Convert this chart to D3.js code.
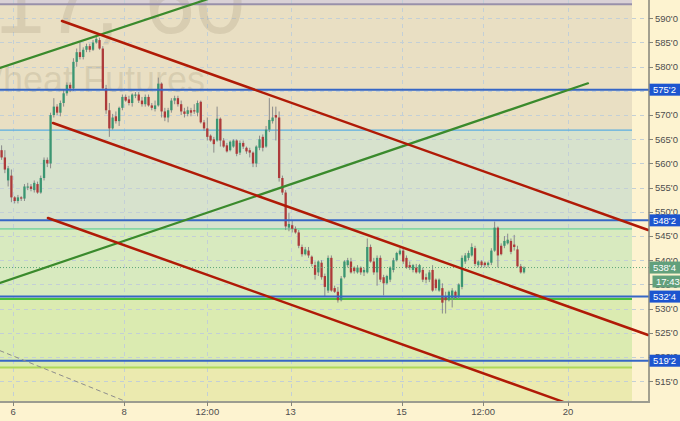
<!DOCTYPE html>
<html><head><meta charset="utf-8">
<script src="https://cdn.jsdelivr.net/npm/d3@7"></script>
<style>html,body{margin:0;padding:0;background:#fdf3d0;}svg{display:block}</style>
</head><body><svg id="c" width="680" height="421"></svg>
<script>
// [open, high, low, close] hourly bars
const ohlc = [
[562.75,563.75,560.75,561.25],[561.25,562.75,558,558.75],[556.5,559.5,555.25,559],[557.5,558.75,552,553],
[553,553.25,551.75,552.25],[552.25,553.5,551.75,553],[553,553.25,552.25,552.75],[552.75,555.75,552.25,555.25],
[555,556,554.5,555.25],[555.25,555.75,554.25,554.75],[554.5,556.5,554,556],[555.75,556.25,553.75,554],
[554,557.5,553.75,557],[557,561.25,556.5,560.75],[560.75,561.25,559.25,560],[560,570.5,559,570],
[570,573.5,569.5,571.75],[571.75,572.25,570,570.5],[570.5,573,569.75,572.5],[572.5,575.25,571.75,574.5],
[574.5,576.75,574,576.25],[576.25,576.75,574.75,575.5],[575.5,581.75,575,581],[581,583.75,580,583],
[583,585,581.5,582],[582,584,581.5,583.5],[583.5,584.75,583,584.25],[584.25,584.75,583,583.5],
[583.5,585.5,583.25,585],[585,586.25,584.75,585.75],[585.5,586,583.5,583.75],[583.75,584.25,575.25,575.5],
[575.5,576.25,570.25,571],[571,572.5,565.5,567.25],[567.25,570.25,567,569.5],[569.75,570.75,568.25,568.75],
[568.75,571.75,567.75,571.5],[571.5,574.25,571,573.75],[573.75,574.25,572.75,573],[573.25,574,572,572.5],
[572.5,574.5,571.75,574.25],[574,574.75,573.5,574.25],[574.25,574.75,572.5,573],[573,573.75,571.75,572.25],
[572.25,574.25,571.75,573.75],[573.75,574.25,571.75,572],[572,572.5,571,571.5],[571.25,573,570.75,572],
[572,577.75,571.75,576.5],[576.5,576.75,569.5,570.75],[570.75,571.5,568.75,569.5],[569.5,571.5,568.5,571],
[571,573.5,570.5,573],[573,574,572.25,573.5],[573.5,574,571.75,572.25],[572.25,573,570,570.75],
[570.75,571.5,569.5,570.25],[570.25,571.75,569.75,571],[571,571.5,569.75,570.5],[571,572.25,570.25,570.75],
[570.5,573,569.75,572.5],[572.75,573,568.25,568.5],[568.5,569,566.75,567.25],[567.25,569.5,564.75,565.5],
[565.75,566,564.5,564.75],[565,565.5,562.25,564],[564.75,571.75,564.5,569.25],[569.25,569.5,563.5,564.75],
[564.75,565.25,563.25,563.5],[563.75,564.25,562.25,562.5],[562.75,564.75,562.5,564.5],[563.5,565,563.25,564.75],
[564.75,565,561.5,562],[562.25,564.75,561.75,564.25],[564.25,564.75,563,563.5],[563.25,563.5,562,562.5],
[562.75,563.25,561.25,562.25],[562.25,562.5,559.25,560],[560,563.75,559.25,563.5],[563.25,565.75,562.75,565],
[565.5,566,562.5,563.25],[563.5,567.75,563.25,567],[567,573.5,566.5,569],[568.75,571.75,568.25,569.5],
[570,571.75,564.75,569.5],[569.5,570.75,556.25,557],[557,557.5,553.5,554],[554,554.5,546.25,547],
[546.75,549.75,546,547.5],[547.25,548.25,545.75,546.5],[546.5,547,545.5,545.75],[545.75,546.25,542.5,543],
[542.75,543.25,540.75,541.25],[541.25,542.75,541,542.25],[542,542.75,540.5,541],[540.75,541,538.75,539.25],
[539,539.75,536,537],[537.5,540,536.75,539.75],[539.5,540,536,536.5],[536.75,537.25,532.5,534.5],
[533.75,541,533.25,540.5],[540.5,541,533.5,533.75],[534.25,534.75,533.25,533.5],[533.5,534.5,531.25,531.75],
[531.75,536.75,531.5,536.25],[536.5,540,536.25,539.75],[539,540.5,538.5,540],[539.75,540.5,537.25,537.5],
[538.5,538.75,537.25,537.75],[537.5,539,537.25,538.5],[538.5,538.75,537,537.5],[537.5,538.5,536.75,538],
[537.5,544.5,537.25,542.75],[542.75,543.25,539.5,539.75],[539.75,540.5,537,537.5],[537.5,541,534.75,540.5],
[540.5,541,535.5,536],[536.5,537,532.75,535.25],[535.25,537,535,536.75],[536,538.75,535.5,538.5],
[538,540.5,537.5,540],[540,541.75,539.75,541.5],[541.25,542.5,541,542],[542,542.75,539.25,539.75],
[540.5,541,538.25,538.5],[539,539.75,538,538.5],[538,539.25,537.5,539],[538.5,539.25,537.25,537.5],
[537.5,539.25,537.25,539],[538,538.5,535.5,536],[536.5,537.25,535.25,536],[536,538,535.5,537.5],
[538,539,533.5,533.75],[536,536.25,533.75,534.25],[533.75,536.25,533.5,536],[534.25,535.25,529,531.25],
[532.5,533.5,529,531.75],[531.75,533.75,531.5,533.5],[532.25,534.25,530.25,533.75],[533.5,533.75,532,532.25],
[532.5,535.25,532,535],[534.5,541,534,540.5],[539.75,541.5,539.25,541],[540.5,542,540,541.5],
[541,543.5,540.75,542.75],[542.5,543,538.75,539.25],[539,540,538.5,539.75],[539.75,540,538.5,539],
[539.5,539.75,538.5,539],[539,539.75,538.5,539.5],[539.5,542.5,539,542],[542,548,541.75,546.75],
[546.75,547,538.5,541],[543,543.5,541,541.25],[543,545,542.5,544],[543.5,545.5,543.25,544.25],
[544,544.5,541.25,541.75],[543.25,545.25,542,542.75],[542.25,543,538.5,538.75],[538.75,539.25,537.25,537.5],
[537.5,538.75,537.25,538.5]
];
const priceTicks = [590,585,580,575,570,565,560,555,550,545,540,535,530,525,520,515];
const timeTickBars = [3.5,37.5,63,88.5,122.5,147.5,173.5];
const timeTickLabels = ["6","8","12:00","13","15","12:00","20"];
const levelPrices = [575.25,548.25,532.5,519.25];
const lastPrice = 538.5;
const lastTime = "17:43";
// zone boundaries (price) and fills
const zoneEdges = [594,592.9,566.9,546.5,532.0,517.85,510];
const zoneFills = ["#d9d1d6","#e9dfc3","#d7e2cd","#d8eabf","#dbebb1","#ebeaaf"];
const zoneLinePrices = [592.9,566.9,546.5,532.0,517.85];
const zoneLineColors = ["#9890aa","#5aaee0","#86d6a6","#46bf3c","#aed85a"];
// trend lines: [bar1, price1, bar2, price2]
const redLines = [[18.5,589.44,198,546.26],[15.74,568.37,198,524.57],[14.2,548.74,172,510.76]];
const greenLines = [[-0.49,579.73,70,595.5],[-0.49,535.31,179.6,576.57]];
const grayLines = [[-0.49,521.32,40,510.3]];

const W=680,H=421, plotR=649, zoneR=632, plotB=402;
const svg=d3.select("#c");
const x=d3.scaleLinear().domain([-0.49,198.28]).range([0,plotR]);
const y=d3.scaleLinear().domain([593.78,510.72]).range([0,plotB]);
const fmt=p=>{const f=Math.floor(p);return f+"'"+Math.round((p-f)*8);};
const font="'Liberation Sans', Arial, sans-serif";

svg.append("rect").attr("width",W).attr("height",H).attr("fill","#fdf3d0");
const defs=svg.append("defs");
defs.append("clipPath").attr("id","plot").append("rect").attr("x",0).attr("y",0).attr("width",plotR).attr("height",plotB);
const g=svg.append("g").attr("clip-path","url(#plot)");

// zones
g.selectAll("rect.zone").data(zoneFills).join("rect")
 .attr("x",0).attr("width",zoneR)
 .attr("y",(d,i)=>y(zoneEdges[i])).attr("height",(d,i)=>y(zoneEdges[i+1])-y(zoneEdges[i]))
 .attr("fill",d=>d);

// grid
g.selectAll("line.hg").data(priceTicks).join("line")
 .attr("x1",0).attr("x2",plotR).attr("y1",d=>Math.round(y(d))+0.5).attr("y2",d=>Math.round(y(d))+0.5)
 .attr("stroke","#c3cfd6").attr("stroke-dasharray","4,4").attr("stroke-width",1);
g.selectAll("line.vg").data(timeTickBars).join("line")
 .attr("y1",0).attr("y2",plotB).attr("x1",d=>Math.round(x(d))+0.5).attr("x2",d=>Math.round(x(d))+0.5)
 .attr("stroke","#c3cfd6").attr("stroke-dasharray","4,4").attr("stroke-width",1);

// watermark
g.append("text").attr("x",245).attr("y",33).attr("text-anchor","end")
 .attr("font-family",font).attr("font-size",90).attr("fill","#9a8f70").attr("fill-opacity",0.22).text("ZWN17, 60");
g.append("text").attr("x",205).attr("y",92).attr("text-anchor","end")
 .attr("font-family",font).attr("font-size",36).attr("fill","#9a8f70").attr("fill-opacity",0.22).text("Wheat Futures");

// zone lines
g.selectAll("line.zl").data(zoneLinePrices).join("line")
 .attr("x1",0).attr("x2",zoneR).attr("y1",d=>y(d)).attr("y2",d=>y(d))
 .attr("stroke",(d,i)=>zoneLineColors[i]).attr("stroke-width",(d,i)=>i==1?1.2:1.8);

// candles
const bw=2.3;
const c=g.selectAll("g.candle").data(ohlc).join("g");
c.append("line").attr("x1",(d,i)=>x(i)).attr("x2",(d,i)=>x(i))
 .attr("y1",d=>y(d[1])).attr("y2",d=>y(d[2])).attr("stroke","#8a8a8a").attr("stroke-width",1);
c.append("rect").attr("x",(d,i)=>x(i)-bw/2).attr("width",bw)
 .attr("y",d=>y(Math.max(d[0],d[3]))).attr("height",d=>Math.max(1,Math.abs(y(d[0])-y(d[3]))))
 .attr("fill",d=>d[3]>=d[0]?"#3b9672":"#ad3a3a");

// last price dotted line
g.append("line").attr("x1",0).attr("x2",plotR).attr("y1",y(lastPrice)).attr("y2",y(lastPrice))
 .attr("stroke","#5ea67a").attr("stroke-dasharray","1,2").attr("stroke-width",1);

// horizontal levels
g.selectAll("line.lv").data(levelPrices).join("line")
 .attr("x1",0).attr("x2",plotR).attr("y1",d=>y(d)).attr("y2",d=>y(d))
 .attr("stroke","#3566c6").attr("stroke-width",2);

// trend lines
const drawLines=(arr,color,w,dash)=>g.selectAll(null).data(arr).join("line")
 .attr("x1",d=>x(d[0])).attr("y1",d=>y(d[1])).attr("x2",d=>x(d[2])).attr("y2",d=>y(d[3]))
 .attr("stroke",color).attr("stroke-width",w).attr("stroke-dasharray",dash||null).attr("stroke-linecap","round");
drawLines(grayLines,"#8d8d8d",1,"4,4");
drawLines(greenLines,"#3a8a2c",2.2);
drawLines(redLines,"#b01a06",2.5);

// axes
svg.append("line").attr("x1",plotR).attr("x2",plotR).attr("y1",0).attr("y2",plotB+1).attr("stroke","#85857a").attr("stroke-width",1.5);
svg.append("line").attr("x1",0).attr("x2",plotR+0.75).attr("y1",plotB).attr("y2",plotB).attr("stroke","#9c9c90").attr("stroke-width",2);
svg.selectAll("line.yt").data(priceTicks).join("line")
 .attr("x1",plotR).attr("x2",plotR+4).attr("y1",d=>Math.round(y(d))+0.5).attr("y2",d=>Math.round(y(d))+0.5)
 .attr("stroke","#85857a");
svg.selectAll("text.yl").data(priceTicks).join("text")
 .attr("x",655).attr("y",d=>y(d)).attr("dy","0.35em")
 .attr("font-family",font).attr("font-size",9.5).attr("fill","#4e4e4e").text(d=>fmt(d));
svg.selectAll("line.xt").data(timeTickBars).join("line")
 .attr("x1",d=>Math.round(x(d))+0.5).attr("x2",d=>Math.round(x(d))+0.5).attr("y1",plotB).attr("y2",plotB+4)
 .attr("stroke","#85857a");
svg.selectAll("text.xl").data(timeTickBars).join("text")
 .attr("x",d=>x(d)).attr("y",415).attr("text-anchor","middle")
 .attr("font-family",font).attr("font-size",9.5).attr("fill","#4e4e4e").text((d,i)=>timeTickLabels[i]);

// price tags
const tag=(p,fill,label,x0,dy)=>{
  const yy=y(p)+(dy||0);
  svg.append("rect").attr("x",x0).attr("y",yy-6).attr("width",W-x0).attr("height",12).attr("fill",fill);
  svg.append("text").attr("x",x0+3.5).attr("y",yy).attr("dy","0.35em").attr("font-family",font)
   .attr("font-size",9.5).attr("fill","#ffffff").text(label);
};
levelPrices.forEach(p=>tag(p,"#1d55cf",fmt(p),649.5));
tag(lastPrice,"#62a07c",fmt(lastPrice),649.5);
tag(lastPrice,"#62a07c",lastTime,652.5,14);
</script></body></html>
